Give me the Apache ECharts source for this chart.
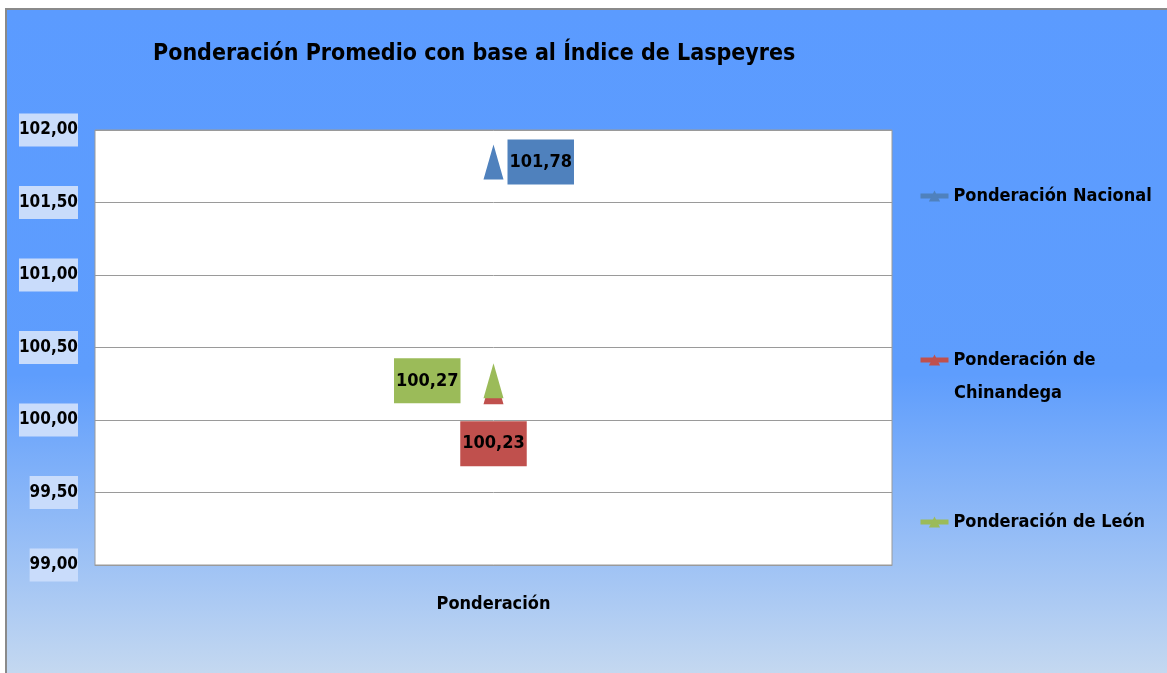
<!DOCTYPE html>
<html>
<head>
<meta charset="utf-8">
<script src="https://cdn.jsdelivr.net/npm/echarts@6/dist/echarts.min.js"></script>
<style>
  html, body { margin: 0; padding: 0; background: #fff; }
  #frame {
    position: absolute; left: 5px; top: 8px; right: 0; bottom: 0;
    border-left: 2px solid #8a8a8a; border-top: 2px solid #8a8a8a;
    background: linear-gradient(to bottom, #5b9bff 0%, #5e9dfd 55%, #c4d8f0 100%);
  }
  #plot { position: absolute; left: 0; top: 0; width: 1167px; height: 673px; }
</style>
</head>
<body>
<div id="frame"></div>
<div id="plot"></div>
<script>
"use strict";

var FONT = "'Liberation Sans Narrow', 'Arial Narrow', 'DejaVu Sans Condensed', sans-serif";

// Data.
var categories = ['Ponderación'];
var seriesNames = ['Ponderación Nacional', 'Ponderación de Chinandega', 'Ponderación de León'];
var nacional = [101.78];
var chinandega = [100.23];
var leon = [100.27];
var colors = ['#4f81bd', '#c0504d', '#9bbb59'];

function fmt(v) {
  return Number(v).toFixed(2).replace('.', ',');
}

function labelFor(pos, color, dist) {
  return {
    show: true,
    position: pos,
    distance: dist,
    formatter: function (p) { return fmt(p.value); },
    backgroundColor: color,
    color: '#000',
    fontFamily: FONT,
    fontWeight: 'bold',
    fontSize: 18,
    lineHeight: 21,
    padding: [12, 2, 12, 2]
  };
}

function makeSeries(name, data, color, label) {
  return {
    name: name,
    type: 'line',
    data: data,
    symbol: 'triangle',
    symbolSize: [20, 35],
    itemStyle: { color: color },
    lineStyle: { color: color, width: 4 },
    label: label,
    emphasis: { disabled: true }
  };
}

function legendFor(name, top) {
  return {
    data: [name],
    left: 918,
    top: top,
    padding: 0,
    orient: 'vertical',
    itemWidth: 28,
    itemHeight: 14,
    lineStyle: { width: 5 },
    formatter: function (n) {
      // second line of the Chinandega entry is drawn below as its own text
      return n === 'Ponderación de Chinandega' ? 'Ponderación de' : n;
    },
    textStyle: {
      fontFamily: FONT,
      fontWeight: 'bold',
      fontSize: 18,
      color: '#000'
    }
  };
}

var chart = echarts.init(document.getElementById('plot'), null, { renderer: 'canvas' });
chart.setOption({
  animation: false,
  backgroundColor: 'transparent',
  title: {
    text: 'Ponderación Promedio con base al Índice de Laspeyres',
    left: 148,
    top: 38,
    textStyle: { fontFamily: FONT, fontWeight: 'bold', fontSize: 23, color: '#000' }
  },
  legend: [
    legendFor(seriesNames[0], 187),
    legendFor(seriesNames[1], 351),
    legendFor(seriesNames[2], 513)
  ],
  graphic: [{
    type: 'text',
    left: 954,
    top: 384,
    style: { text: 'Chinandega', fill: '#000', font: 'bold 18px ' + FONT }
  }],
  grid: {
    left: 95, right: 275, top: 130, bottom: 108,
    show: true, backgroundColor: '#fff', borderColor: '#9a9a9a', borderWidth: 1
  },
  xAxis: {
    type: 'category',
    data: categories,
    axisTick: { show: false },
    axisLine: { lineStyle: { color: '#9a9a9a' } },
    axisLabel: {
      margin: 30, color: '#000', fontFamily: FONT, fontWeight: 'bold', fontSize: 18
    }
  },
  yAxis: {
    type: 'value',
    min: 99,
    max: 102,
    interval: 0.5,
    axisLine: { show: false },
    axisTick: { show: false },
    splitLine: { lineStyle: { color: '#9a9a9a', width: 1 } },
    axisLabel: {
      margin: 17,
      formatter: fmt,
      color: '#000',
      fontFamily: FONT,
      fontWeight: 'bold',
      fontSize: 17,
      backgroundColor: '#c9dcfb',
      padding: [9, 0, 7, 0]
    }
  },
  series: [
    makeSeries(seriesNames[0], nacional, colors[0], labelFor('right', colors[0], 4)),
    makeSeries(seriesNames[1], chinandega, colors[1], labelFor('bottom', colors[1], 17)),
    makeSeries(seriesNames[2], leon, colors[2], labelFor('left', colors[2], 23))
  ]
});
</script>
</body>
</html>
